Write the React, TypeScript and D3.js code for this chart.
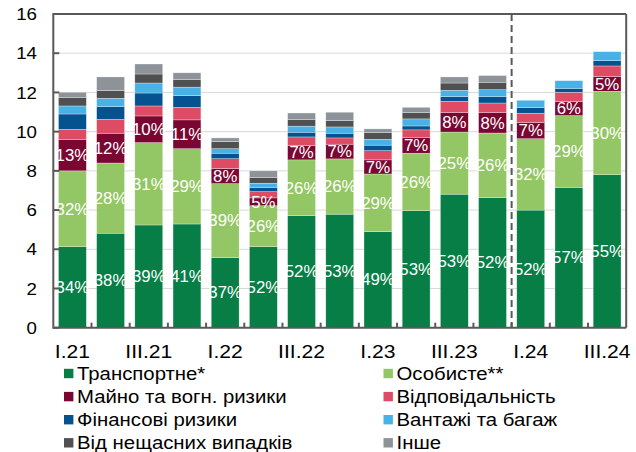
import React from "react";
import * as d3 from "d3";

const categories = ["I.21","II.21","III.21","IV.21","I.22","II.22","III.22","IV.22","I.23","II.23","III.23","IV.23","I.24","II.24","III.24"];
const tickLabels = ["I.21","III.21","I.22","III.22","I.23","III.23","I.24","III.24"];

const transport = [4.13,4.82,5.24,5.29,3.57,4.13,5.71,5.79,4.90,5.97,6.81,6.63,6.00,7.16,7.81];
const personal  = [3.87,3.58,4.20,3.84,3.78,2.09,2.85,2.82,2.94,2.93,3.17,3.30,3.64,3.66,4.25];
const property  = [1.61,1.52,1.36,1.47,0.76,0.40,0.73,0.75,0.72,0.81,0.99,1.04,0.82,0.71,0.75];
const liability = [0.51,0.71,0.51,0.64,0.51,0.32,0.44,0.32,0.47,0.38,0.58,0.49,0.48,0.48,0.54];
const financial = [0.78,0.65,0.66,0.60,0.28,0.22,0.24,0.24,0.28,0.20,0.24,0.33,0.28,0.20,0.27];
const cargo     = [0.41,0.42,0.51,0.43,0.23,0.21,0.31,0.32,0.30,0.36,0.32,0.35,0.38,0.39,0.46];
const accident  = [0.42,0.39,0.46,0.38,0.36,0.28,0.33,0.32,0.34,0.32,0.37,0.38,0,0,0];
const other     = [0.28,0.70,0.51,0.35,0.19,0.35,0.34,0.43,0.19,0.27,0.31,0.34,0,0,0];

const transportPct = ["34%","38%","39%","41%","37%","52%","52%","53%","49%","53%","53%","52%","52%","57%","55%"];
const personalPct  = ["32%","28%","31%","29%","39%","26%","26%","26%","29%","26%","25%","26%","32%","29%","30%"];
const propertyPct  = ["13%","12%","10%","11%","8%","5%","7%","7%","7%","7%","8%","8%","7%","6%","5%"];

const seriesNames = ["Транспортне*","Особисте**","Майно та вогн. ризики","Відповідальність","Фінансові ризики","Вантажі та багаж","Від нещасних випадків","Інше"];
const seriesKeys = ["transport","personal","property","liability","financial","cargo","accident","other"];
const seriesColors = ["#067E46","#93C664","#7A0632","#DD4C64","#04528F","#48B1E5","#505050","#8D9399"];
const yTicks = [0,2,4,6,8,10,12,14,16];

const W = 636, H = 452;
const left = 53.3, right = 626.2, top = 14, bottom = 327.7;
const FONT = "'Liberation Sans', Arial, sans-serif";
const SX = 1.1;

export default function App() {
  const rows = categories.map((c, i) => ({
    cat: c,
    transport: transport[i], personal: personal[i], property: property[i], liability: liability[i],
    financial: financial[i], cargo: cargo[i], accident: accident[i], other: other[i],
  }));
  const stack = d3.stack<any>().keys(seriesKeys)(rows);
  const x = d3.scaleBand<string>().domain(categories).range([left, right]).paddingInner(0.27).paddingOuter(0.135);
  const y = d3.scaleLinear().domain([0, 16]).range([bottom, top]);
  const bw = x.bandwidth();
  const step = x.step();
  const pctLabels = [transportPct, personalPct, propertyPct];
  const dashX = left + step * 12;

  return (
    <svg width={W} height={H} style={{ position: "absolute", left: 0, top: 0, background: "#fff" }} fontFamily={FONT}>
      {yTicks.filter(t => t > 0 && t < 16).map(t => (
        <line key={"g" + t} x1={left} x2={right} y1={y(t)} y2={y(t)} stroke="#D9D9D9" strokeWidth={1} />
      ))}
      {stack.map((s, si) => (
        <g key={s.key} fill={seriesColors[si]}>
          {s.map((d, i) => d[1] - d[0] > 0 ? (
            <rect key={i} x={x(categories[i])} y={y(d[1])} width={bw} height={y(d[0]) - y(d[1])} stroke="#ffffff" strokeWidth={0.5} strokeOpacity={0.6} />
          ) : null)}
        </g>
      ))}
      {pctLabels.map((labels, si) => (
        <g key={"l" + si}>
          {stack[si].map((d, i) => (
            <text key={i} transform={`translate(${(x(categories[i]) as number) + bw / 2},${y((d[0] + d[1]) / 2)}) scale(1.05,1)`} dy="0.36em"
              textAnchor="middle" fill="#ffffff" fontSize={16}>{labels[i]}</text>
          ))}
        </g>
      ))}
      <line x1={dashX} x2={dashX} y1={top} y2={bottom} stroke="#595959" strokeWidth={2} strokeDasharray="7,4" />
      <line x1={left} x2={right} y1={top} y2={top} stroke="#595959" strokeWidth={2} />
      <line x1={right} x2={right} y1={top} y2={bottom} stroke="#595959" strokeWidth={2} />
      <line x1={left} x2={left} y1={top - 1} y2={bottom + 1} stroke="#595959" strokeWidth={2} />
      <line x1={left} x2={right} y1={bottom} y2={bottom} stroke="#595959" strokeWidth={2} />
      {yTicks.map(t => (
        <g key={"t" + t}>
          <line x1={left} x2={left + 6} y1={y(t)} y2={y(t)} stroke="#595959" strokeWidth={2} />
          <text transform={`translate(37,${y(t)}) scale(${SX},1)`} dy="0.36em" textAnchor="end" fontSize={17} fill="#000">{t}</text>
        </g>
      ))}
      {categories.map((c, i) => i > 0 ? (
        <line key={"bt" + i} x1={left + step * i} x2={left + step * i} y1={bottom} y2={bottom - 5} stroke="#595959" strokeWidth={2} />
      ) : null)}
      {tickLabels.map(lbl => (
        <text key={lbl} transform={`translate(${(x(lbl) as number) + bw / 2},358) scale(1.14,1)`} textAnchor="middle" fontSize={18.5} fill="#000">{lbl}</text>
      ))}
      {seriesNames.map((n, i) => {
        const col = i % 2;
        const row = Math.floor(i / 2);
        const sx = col === 0 ? 64 : 383.5;
        const cy = 373.5 + row * 23.1;
        return (
          <g key={n}>
            <rect x={sx} y={cy - 4.7} width={9.4} height={9.4} fill={seriesColors[i]} />
            <text transform={`translate(${sx + 13},${cy + 6}) scale(${SX},1)`} fontSize={18.5} fill="#000">{n}</text>
          </g>
        );
      })}
    </svg>
  );
}
